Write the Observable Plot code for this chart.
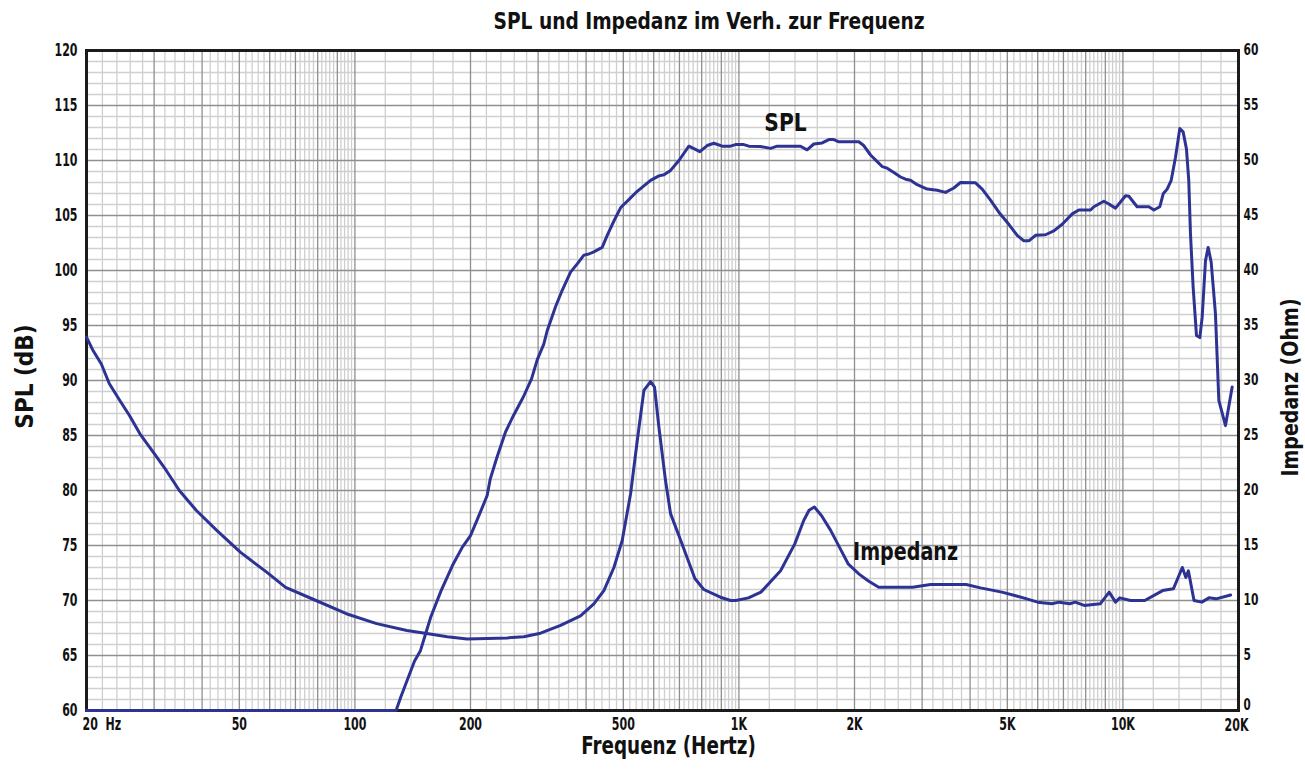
<!DOCTYPE html>
<html>
<head>
<meta charset="utf-8">
<script src="https://cdn.jsdelivr.net/npm/d3@7"></script>
<script src="https://cdn.jsdelivr.net/npm/@observablehq/plot@0.6"></script>
<style>
  html, body { margin: 0; padding: 0; background: #fff; }
  body { width: 1305px; height: 770px; position: relative; overflow: hidden;
         font-family: "Liberation Sans Narrow", "DejaVu Sans Condensed", "Arial Narrow", sans-serif; }
  #title { position: absolute; top: 10px; left: 709px; transform: translateX(-50%) scaleX(0.9);
           font-size: 23px; font-weight: bold; line-height: 1; white-space: nowrap; color: #111; }
  #chart { position: absolute; top: 40px; left: 0; }
</style>
</head>
<body>
<div id="title">SPL und Impedanz im Verh. zur Frequenz</div>
<div id="chart"></div>
<script>
// ---- data ----
const splFreq = [20,128,131.6,143,148,157.6,167.7,179.6,190.5,200,208,216.6,221,225.2,234.3,246.6,258.6,274.5,288.4,298.5,310.4,316.6,333,346.6,364.4,379.3,394.8,406.7,419,440.5,454,472.6,491.8,522.3,543.5,565.7,588.8,619,637.9,663.8,697.9,740.8,791.4,826.9,860.6,904.6,951,979.8,1030,1061,1139,1209,1258,1447,1505,1567,1648,1715,1767,1821,2052,2114,2202,2292,2361,2433,2532,2636,2716,2798,2912,3092,3283,3451,3628,3776,4132,4301,4521,4752,5045,5305,5522,5690,5922,6288,6609,6950,7379,7678,8237,8403,8921,9192,9567,10160,10365,10890,11684,12040,12480,12733,13040,13360,13708,14064,14349,14637,14842,14998,15236,15546,15861,16085,16409,16673,16979,17419,17774,18501,19255];
const splDb = [60,60,61.2,64.5,65.4,68.5,70.9,73.2,74.85,75.9,77.3,78.8,79.55,81.06,83.0,85.3,86.8,88.5,90.15,91.9,93.3,94.5,96.7,98.2,99.85,100.6,101.4,101.5,101.7,102.1,103.2,104.5,105.7,106.6,107.2,107.7,108.2,108.6,108.7,109.1,110.0,111.3,110.8,111.36,111.57,111.3,111.3,111.45,111.45,111.3,111.27,111.1,111.3,111.3,110.97,111.5,111.6,111.9,111.9,111.7,111.7,111.36,110.5,109.9,109.45,109.3,108.9,108.5,108.3,108.2,107.8,107.4,107.3,107.1,107.5,108.0,107.97,107.4,106.4,105.3,104.2,103.2,102.7,102.7,103.2,103.25,103.6,104.2,105.15,105.5,105.5,105.8,106.3,106.05,105.67,106.8,106.75,105.8,105.8,105.5,105.8,106.97,107.4,108.2,110.3,112.9,112.6,111.06,108.2,103.3,98.5,94.1,93.9,95.76,100.9,102.1,100.75,96.06,88.2,85.9,89.4];

const impFreq = [20,20.82,21.86,22.94,24.4,25.9,27.55,30.1,32.3,34.9,38.6,43.6,50.3,58.8,66,79.2,95,113.9,136.6,155.3,174,196,249.2,275.3,304.4,343.2,386.8,419,445,472.6,496.7,522.3,543.5,565.7,588.8,603,619,644,663.7,704.8,768,810,895,951,982,1059,1141,1284,1398,1475,1523,1572,1642,1732,1827,1928,2056,2169,2312,2833,3155,3907,4257,4840,5507,5998,6532,6822,7274,7511,7927,8727,9211,9567,9815,10466,11400,12689,13535,14279,14590,14810,15317,16050,16757,17487,19077];
const impOhm = [33.94,32.7,31.5,29.7,28.2,26.8,25.15,23.3,21.8,20.0,18.2,16.4,14.4,12.6,11.2,10.0,8.8,7.9,7.27,6.97,6.7,6.5,6.6,6.7,7.03,7.73,8.6,9.7,10.9,13.0,15.45,19.7,24.5,29.1,29.9,29.4,25.75,20.9,17.9,15.5,12.0,11.0,10.3,10.0,10.0,10.24,10.76,12.7,15.15,17.27,18.2,18.5,17.7,16.4,14.85,13.3,12.4,11.8,11.2,11.2,11.45,11.45,11.15,10.76,10.24,9.85,9.7,9.85,9.7,9.85,9.55,9.7,10.76,9.85,10.24,10.0,10.0,10.9,11.06,13.0,12.1,12.7,10.0,9.85,10.24,10.15,10.5];

const xTickValues = [20,50,100,200,500,1000,2000,5000,10000,20000];
const xTickLabels = ["20\u00a0\u00a0Hz","50","100","200","500","1K","2K","5K","10K","20K"];
const yTickValues = [60,65,70,75,80,85,90,95,100,105,110,115,120];   // SPL (dB)
const impTickLabels = ["0","5","10","15","20","25","30","35","40","45","50","55","60"]; // Ohm

const seriesNames = ["SPL", "Impedanz"];
const seriesLabelFreq = [1322, 2716];
const seriesLabelDb = [113.45, 74.45];

// ---- tables ----
const spl = splFreq.map((f, i) => ({f, db: splDb[i]}));
const imp = impFreq.map((f, i) => ({f, ohm: impOhm[i]}));
const xTicks = xTickValues.map((v, i) => ({v, label: xTickLabels[i]}));
const rightTicks = yTickValues.map((v, i) => ({v, label: impTickLabels[i]}));
const seriesLabels = seriesNames.map((t, i) => ({t, f: seriesLabelFreq[i], db: seriesLabelDb[i]}));

// grid lines (log paper style)
const freqMajor = [], freqMinor = [];
for (const k of [10, 100, 1000, 10000]) {
  for (let n = 1; n <= 9; n++) {
    const v = n * k;
    if (v > 20 && v < 20000) freqMajor.push(v);
    for (let m = 1; m <= 4; m++) {
      const w = (n + m * 0.2) * k;
      if (w > 20 && w < 20000) freqMinor.push(w);
    }
  }
}
const dbMajor = d3.range(65, 120, 5);
const dbMinor = d3.range(61, 120, 1).filter(d => d % 5 !== 0);

const font = '"Liberation Sans Narrow", "DejaVu Sans Condensed", "Arial Narrow", sans-serif';
const blue = "#2d3392";

const chart = Plot.plot({
  width: 1305,
  height: 730,
  marginLeft: 86,
  marginRight: 67,
  marginTop: 10,
  marginBottom: 60,
  x: {type: "log", domain: [20, 20000], axis: null},
  y: {domain: [60, 120], axis: null},
  style: {fontFamily: font, fontWeight: "bold", background: "white", color: "#111", overflow: "visible"},
  marks: [
    Plot.ruleY(dbMinor, {stroke: "#cfcfcf", strokeWidth: 1.3}),
    Plot.ruleX(freqMinor, {stroke: "#cfcfcf", strokeWidth: 1.3}),
    Plot.ruleY(dbMajor, {stroke: "#8f8f8f", strokeWidth: 1.3}),
    Plot.ruleX(freqMajor, {stroke: "#8f8f8f", strokeWidth: 1.3}),
    Plot.frame({stroke: "#1b1b1b", strokeWidth: 3}),
    // left axis (SPL)
    Plot.text(yTickValues, {y: d => d, text: d => String(d), frameAnchor: "left", textAnchor: "end", dx: -9, fontSize: 17, fill: "#111"}),
    // right axis (Impedanz); the lowest label sits a little higher to clear "20K"
    Plot.text(rightTicks.slice(1), {y: "v", text: "label", frameAnchor: "right", textAnchor: "start", dx: 5, dy: -1, fontSize: 16.5, fill: "#111"}),
    Plot.text(rightTicks.slice(0, 1), {y: "v", text: "label", frameAnchor: "right", textAnchor: "start", dx: 5, dy: -6, fontSize: 16, fill: "#111"}),
    // bottom axis
    Plot.text(xTicks.slice(0, 1), {x: "v", text: "label", frameAnchor: "bottom", textAnchor: "start", dx: -4, dy: 19, fontSize: 17, fill: "#111"}),
    Plot.text(xTicks.slice(1, -1), {x: "v", text: "label", frameAnchor: "bottom", textAnchor: "middle", dy: 19, fontSize: 17, fill: "#111"}),
    Plot.text(xTicks.slice(-1), {x: "v", text: "label", frameAnchor: "bottom", textAnchor: "middle", dx: -2, dy: 20, fontSize: 17, fill: "#111"}),
    // axis titles
    Plot.text(["SPL (dB)"], {frameAnchor: "left", textAnchor: "middle", rotate: -90, dx: -61, dy: -4, fontSize: 24, fill: "#111"}),
    Plot.text(["Impedanz (Ohm)"], {frameAnchor: "right", textAnchor: "middle", rotate: -90, dx: 52, dy: 7, fontSize: 23, fill: "#111"}),
    Plot.text(["Frequenz (Hertz)"], {frameAnchor: "bottom", textAnchor: "middle", dx: 6, dy: 43, fontSize: 24, fill: "#111"}),
    // curves
    Plot.line(imp, {x: "f", y: d => d.ohm + 60, stroke: blue, strokeWidth: 3, strokeLinejoin: "round"}),
    Plot.line(spl, {x: "f", y: "db", stroke: blue, strokeWidth: 3, strokeLinejoin: "round"}),
    // series labels
    Plot.text(seriesLabels, {x: "f", y: "db", text: "t", fontSize: 25, fill: "#111"})
  ]
});
document.getElementById("chart").appendChild(chart);

// condense the bold labels horizontally (the reference uses a condensed face)
const squeeze = new Map([["SPL", 0.9], ["Impedanz", 0.85], ["Frequenz (Hertz)", 0.85], ["Impedanz (Ohm)", 0.92], ["SPL (dB)", 1]]);
chart.querySelectorAll("text").forEach(t => {
  const s = t.textContent;
  const k = squeeze.has(s) ? squeeze.get(s) : 0.72;
  if (k === 1) return;
  const w = t.getComputedTextLength();
  t.setAttribute("textLength", (w * k).toFixed(1));
  t.setAttribute("lengthAdjust", "spacingAndGlyphs");
});
</script>
</body>
</html>
